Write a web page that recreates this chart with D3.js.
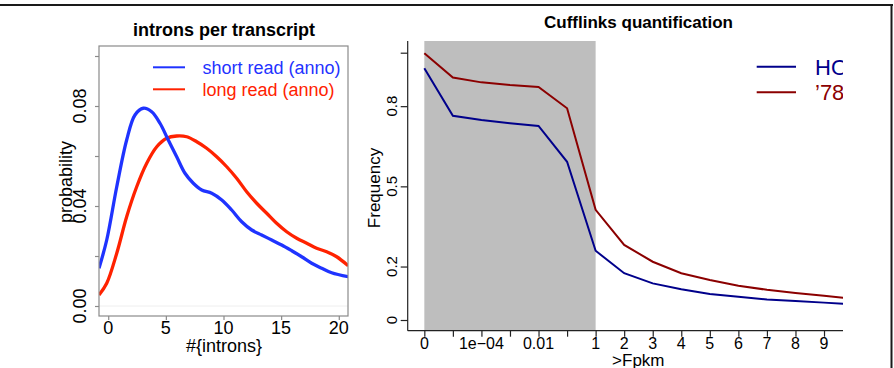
<!DOCTYPE html>
<html>
<head>
<meta charset="utf-8">
<script src="https://cdn.jsdelivr.net/npm/d3@7"></script>
<style>
  body { margin: 0; background: #fff; }
  svg { display: block; font-family: "Liberation Sans", Arial, Helvetica, sans-serif; }
</style>
</head>
<body>
<div id="chart"></div>
<script>
// ---- left panel: introns per transcript (density curves)
var shortX = [-0.80, -0.13, 0.74, 1.60, 2.32, 3.04, 3.77, 4.49, 5.21, 5.94, 6.66, 7.38, 8.11, 8.98, 9.85, 10.71, 11.58, 12.45, 13.31, 14.18, 15.05, 15.92, 16.78, 17.65, 18.52, 19.38, 20.82];
var shortY = [0.0151, 0.0264, 0.0477, 0.0664, 0.0764, 0.0791, 0.0777, 0.0731, 0.0664, 0.0597, 0.0531, 0.0491, 0.0464, 0.0451, 0.0424, 0.0384, 0.0337, 0.0304, 0.0284, 0.0264, 0.0244, 0.0221, 0.0197, 0.0171, 0.0151, 0.0133, 0.0117];
var longX = [-0.80, -0.13, 0.74, 1.60, 2.47, 3.34, 4.21, 5.07, 5.94, 6.81, 7.68, 8.54, 9.41, 10.28, 11.14, 12.01, 12.88, 13.75, 14.61, 15.48, 16.35, 17.22, 18.08, 18.95, 19.82, 20.82];
var longY = [0.0044, 0.0091, 0.0211, 0.0357, 0.0477, 0.0571, 0.0637, 0.0671, 0.0680, 0.0677, 0.0657, 0.0631, 0.0597, 0.0557, 0.0511, 0.0457, 0.0411, 0.0371, 0.0331, 0.0297, 0.0271, 0.0251, 0.0231, 0.0217, 0.0197, 0.0161];
var intronTicks = [0, 5, 10, 15, 20];
var probTicks = [0, 0.02, 0.04, 0.06, 0.08, 0.10];
var probLabels = ["0.00", "", "0.04", "", "0.08", ""];
var leftLegend = ["short read (anno)", "long read (anno)"];

// ---- right panel: Cufflinks quantification
var fpkmLabels = ["0", "", "1e\u221204", "", "0.01", "", "1", "2", "3", "4", "5", "6", "7", "8", "9"];
var hoFreq = [0.942, 0.764, 0.748, 0.736, 0.726, 0.592, 0.259, 0.175, 0.137, 0.115, 0.097, 0.087, 0.077, 0.071, 0.065, 0.058];
var r78Freq = [0.998, 0.907, 0.889, 0.879, 0.872, 0.792, 0.412, 0.281, 0.218, 0.175, 0.150, 0.128, 0.113, 0.101, 0.091, 0.080];
var freqTicks = [0, 0.2, 0.5, 0.8, 1];
var freqLabels = ["0", "0.2", "0.5", "0.8", ""];
var shadeRange = [0, 6];
var rightLegend = ["HO", "\u201978"];

var W = 894, H = 368;
var svg = d3.select("#chart").append("svg").attr("width", W).attr("height", H);
svg.append("rect").attr("width", W).attr("height", H).attr("fill", "#fff");

// outer frame
svg.append("line").attr("x1", 0).attr("x2", 893).attr("y1", 5).attr("y2", 5)
  .attr("stroke", "#1a1a1a").attr("stroke-width", 2);
svg.append("line").attr("x1", 891.5).attr("x2", 891.5).attr("y1", 4).attr("y2", H)
  .attr("stroke", "#1a1a1a").attr("stroke-width", 2);

// ================= left panel
var L = { left: 99, right: 348, top: 46, bottom: 316 };
var xL = d3.scaleLinear().domain([-0.8, 20.8]).range([L.left, L.right]);
var yL = d3.scaleLinear().domain([-0.004, 0.104]).range([L.bottom, L.top]);

var gL = svg.append("g");
svg.append("clipPath").attr("id", "clipL").append("rect")
  .attr("x", L.left).attr("y", L.top).attr("width", L.right - L.left).attr("height", L.bottom - L.top);

gL.append("line").attr("x1", L.left).attr("x2", L.right).attr("y1", yL(0)).attr("y2", yL(0))
  .attr("stroke", "#eeeeee").attr("stroke-width", 1);

var lineL = d3.line().x(function(d) { return xL(d[0]); }).y(function(d) { return yL(d[1]); })
  .curve(d3.curveCatmullRom);
var curves = [
  { pts: d3.zip(longX, longY), color: "#ff2200" },
  { pts: d3.zip(shortX, shortY), color: "#1f33ff" }
];
gL.append("g").attr("clip-path", "url(#clipL)").selectAll("path").data(curves).enter().append("path")
  .attr("d", function(d) { return lineL(d.pts); })
  .attr("fill", "none").attr("stroke", function(d) { return d.color; })
  .attr("stroke-width", 3.3).attr("stroke-linejoin", "round");

gL.append("rect").attr("x", L.left).attr("y", L.top).attr("width", L.right - L.left).attr("height", L.bottom - L.top)
  .attr("fill", "none").attr("stroke", "#8a8a8a").attr("stroke-width", 1.2);

var axYL = gL.append("g").attr("transform", "translate(" + L.left + ",0)")
  .call(d3.axisLeft(yL).tickValues(probTicks).tickSize(4).tickFormat(""));
var axXL = gL.append("g").attr("transform", "translate(0," + L.bottom + ")")
  .call(d3.axisBottom(xL).tickValues(intronTicks).tickSize(4).tickFormat(""));
[axYL, axXL].forEach(function(a) {
  a.select(".domain").remove();
  a.selectAll(".tick line").attr("stroke", "#8a8a8a").attr("stroke-width", 1.2);
});

gL.selectAll(".ylabL").data(probTicks).enter().append("text")
  .attr("transform", function(d) { return "translate(80," + yL(d) + ") rotate(-90)"; })
  .attr("text-anchor", "middle").attr("dy", "0.35em").attr("font-size", 18)
  .text(function(d, i) { return probLabels[i]; });
gL.selectAll(".xlabL").data(intronTicks).enter().append("text")
  .attr("x", function(d) { return xL(d); }).attr("y", 328)
  .attr("text-anchor", "middle").attr("dy", "0.35em").attr("font-size", 18)
  .text(function(d) { return d; });

gL.append("text").attr("x", 224).attr("y", 30).attr("dy", "0.35em").attr("text-anchor", "middle")
  .attr("font-size", 18).attr("font-weight", "bold").text("introns per transcript");
gL.append("text").attr("x", 224).attr("y", 346).attr("dy", "0.35em").attr("text-anchor", "middle")
  .attr("font-size", 18).text("#{introns}");
gL.append("text").attr("transform", "translate(66,182) rotate(-90)").attr("dy", "0.35em")
  .attr("text-anchor", "middle").attr("font-size", 18).text("probability");

var legL = gL.selectAll(".legL").data(leftLegend).enter().append("g")
  .attr("transform", function(d, i) { return "translate(0," + (67.3 + i * 22) + ")"; });
legL.append("line").attr("x1", 153).attr("x2", 185).attr("stroke-width", 2)
  .attr("stroke", function(d, i) { return ["#1f33ff", "#ff2200"][i]; });
legL.append("text").attr("x", 202.5).attr("dy", "0.35em").attr("font-size", 18)
  .attr("fill", function(d, i) { return ["#1f33ff", "#ff2200"][i]; })
  .text(function(d) { return d; });

// ================= right panel
var R = { left: 407.7, top: 41, bottom: 330.7, clip: 843 };
var xR = d3.scaleLinear().domain([-0.6, 15.6]).range([407.2, 869.7]);
var yR = d3.scaleLinear().domain([0, 1]).range([320, 52.7]);

svg.append("clipPath").attr("id", "clipR").append("rect")
  .attr("x", 360).attr("y", 0).attr("width", R.clip - 360).attr("height", H);
var gR = svg.append("g");
var gRc = gR.append("g").attr("clip-path", "url(#clipR)");

gRc.append("rect").attr("x", xR(shadeRange[0])).attr("y", R.top)
  .attr("width", xR(shadeRange[1]) - xR(shadeRange[0])).attr("height", R.bottom - R.top)
  .attr("fill", "#bebebe");

var lineR = d3.line().x(function(d, i) { return xR(i); }).y(function(d) { return yR(d); });
gRc.append("path").attr("d", lineR(r78Freq)).attr("fill", "none").attr("stroke", "#8b0000").attr("stroke-width", 2);
gRc.append("path").attr("d", lineR(hoFreq)).attr("fill", "none").attr("stroke", "#00008b").attr("stroke-width", 2);

// L-shaped box
gRc.append("line").attr("x1", R.left).attr("x2", 900).attr("y1", R.bottom).attr("y2", R.bottom)
  .attr("stroke", "#222").attr("stroke-width", 1.2);
gR.append("line").attr("x1", R.left).attr("x2", R.left).attr("y1", R.top).attr("y2", R.bottom)
  .attr("stroke", "#222").attr("stroke-width", 1.2);

var axYR = gR.append("g").attr("transform", "translate(" + R.left + ",0)")
  .call(d3.axisLeft(yR).tickValues(freqTicks).tickSize(7).tickFormat(""));
var axXR = gRc.append("g").attr("transform", "translate(0," + R.bottom + ")")
  .call(d3.axisBottom(xR).tickValues(d3.range(fpkmLabels.length)).tickSize(6).tickFormat(""));
[axYR, axXR].forEach(function(a) {
  a.select(".domain").remove();
  a.selectAll(".tick line").attr("stroke", "#222").attr("stroke-width", 1.2);
});

gR.selectAll(".ylabR").data(freqTicks).enter().append("text")
  .attr("transform", function(d) { return "translate(392," + yR(d) + ") rotate(-90)"; })
  .attr("text-anchor", "middle").attr("dy", "0.35em").attr("font-size", 15)
  .text(function(d, i) { return freqLabels[i]; });
gR.selectAll(".xlabR").data(fpkmLabels).enter().append("text")
  .attr("x", function(d, i) { return xR(i); }).attr("y", 343)
  .attr("text-anchor", "middle").attr("dy", "0.35em").attr("font-size", 16)
  .text(function(d) { return d; });

gR.append("text").attr("x", 638.5).attr("y", 21.7).attr("dy", "0.35em").attr("text-anchor", "middle")
  .attr("font-size", 17).attr("font-weight", "bold").text("Cufflinks quantification");
gR.append("text").attr("x", 638.3).attr("y", 360).attr("dy", "0.35em").attr("text-anchor", "middle")
  .attr("font-size", 17).text(">Fpkm");
gR.append("text").attr("transform", "translate(374,188) rotate(-90)").attr("dy", "0.35em")
  .attr("text-anchor", "middle").attr("font-size", 17).text("Frequency");

var legR = gRc.selectAll(".legR").data(rightLegend).enter().append("g")
  .attr("transform", function(d, i) { return "translate(0," + (66.7 + i * 25.6) + ")"; });
legR.append("line").attr("x1", 756.7).attr("x2", 796).attr("stroke-width", 2)
  .attr("stroke", function(d, i) { return ["#00008b", "#8b0000"][i]; });
legR.append("text").attr("x", 815).attr("dy", "0.36em").attr("font-size", 22)
  .attr("fill", function(d, i) { return ["#00008b", "#8b0000"][i]; })
  .text(function(d) { return d; });
</script>
</body>
</html>
